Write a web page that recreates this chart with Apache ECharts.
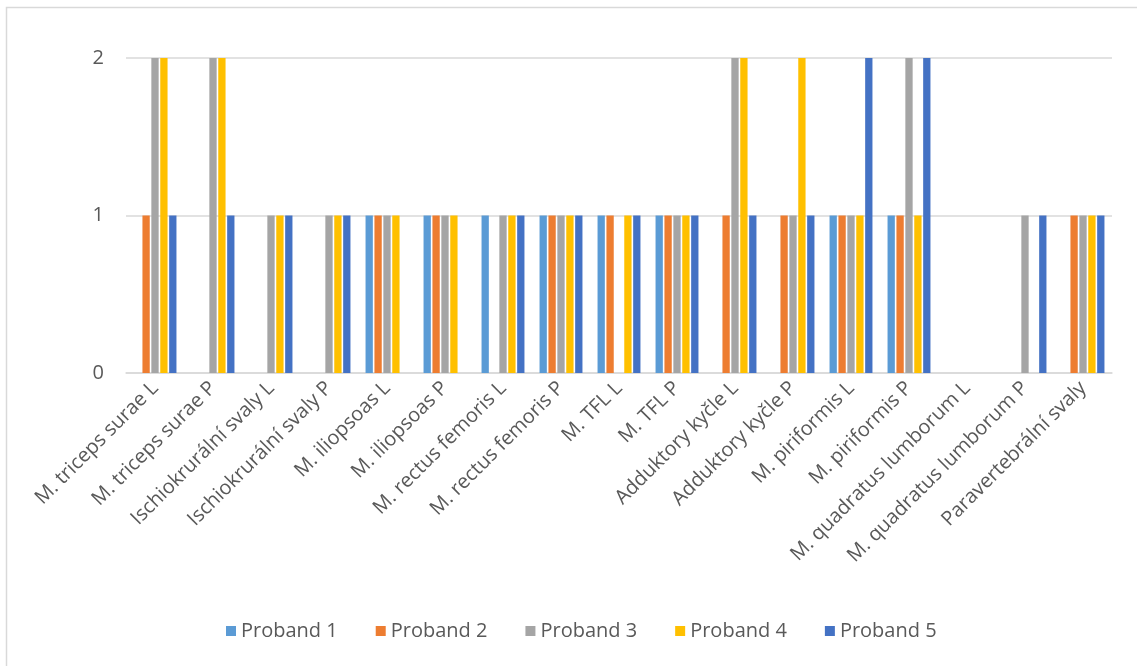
<!DOCTYPE html>
<html>
<head>
<meta charset="utf-8">
<script src="https://cdn.jsdelivr.net/npm/echarts@6/dist/echarts.min.js"></script>
<style>
  html, body { margin: 0; padding: 0; background: #ffffff; }
  #chart { width: 1137px; height: 666px; }
</style>
</head>
<body>
<div id="chart"></div>
<script>
// Muscles examined (left / right side)
const categories = [
  'M. triceps surae L', 'M. triceps surae P',
  'Ischiokrurální svaly L', 'Ischiokrurální svaly P',
  'M. iliopsoas L', 'M. iliopsoas P',
  'M. rectus femoris L', 'M. rectus femoris P',
  'M. TFL L', 'M. TFL P',
  'Adduktory kyčle L', 'Adduktory kyčle P',
  'M. piriformis L', 'M. piriformis P',
  'M. quadratus lumborum L', 'M. quadratus lumborum P',
  'Paravertebrální svaly'
];

// Score per muscle for each subject
const proband1 = [0, 0, 0, 0, 1, 1, 1, 1, 1, 1, 0, 0, 1, 1, 0, 0, 0];
const proband2 = [1, 0, 0, 0, 1, 1, 0, 1, 1, 1, 1, 1, 1, 1, 0, 0, 1];
const proband3 = [2, 2, 1, 1, 1, 1, 1, 1, 0, 1, 2, 1, 1, 2, 0, 1, 1];
const proband4 = [2, 2, 1, 1, 1, 1, 1, 1, 1, 1, 2, 2, 1, 1, 0, 0, 1];
const proband5 = [1, 1, 1, 1, 0, 0, 1, 1, 1, 1, 1, 1, 2, 2, 0, 1, 1];

const seriesNames = ['Proband 1', 'Proband 2', 'Proband 3', 'Proband 4', 'Proband 5'];
const seriesValues = [proband1, proband2, proband3, proband4, proband5];
const colors = ['#5B9BD5', '#ED7D31', '#A5A5A5', '#FFC000', '#4472C4'];

const yTicks = { min: 0, max: 2, interval: 1 };

const font = '"Open Sans", "Noto Sans", sans-serif';
const textColor = '#595959';

const chart = echarts.init(document.getElementById('chart'), null, { renderer: 'canvas' });

chart.setOption({
  animation: false,
  backgroundColor: '#ffffff',
  color: colors,
  textStyle: { fontFamily: font },
  // outer chart-area frame
  graphic: [{
    type: 'rect',
    shape: { x: 6.5, y: 7.5, width: 1200, height: 700 },
    style: { fill: 'none', stroke: '#d9d9d9', lineWidth: 1.5 },
    silent: true
  }],
  grid: { left: 126, right: 25, top: 58, bottom: 293, containLabel: false },
  legend: {
    bottom: 20,
    left: 221,
    itemWidth: 10,
    itemHeight: 10,
    itemGap: 38,
    icon: 'rect',
    textStyle: { fontFamily: font, fontSize: 20, color: textColor, padding: [0, 0, 0, 0] },
    data: seriesNames
  },
  xAxis: {
    type: 'category',
    data: categories,
    axisLine: { show: true, lineStyle: { color: '#d9d9d9', width: 1.5 } },
    axisTick: { show: false },
    axisLabel: {
      interval: 0,
      rotate: 45,
      margin: 12,
      fontFamily: font,
      fontSize: 20,
      color: textColor
    }
  },
  yAxis: {
    type: 'value',
    min: yTicks.min,
    max: yTicks.max,
    interval: yTicks.interval,
    axisLine: { show: false },
    axisTick: { show: false },
    splitLine: { lineStyle: { color: '#d9d9d9', width: 1.5 } },
    axisLabel: { margin: 22, fontFamily: font, fontSize: 20, color: textColor }
  },
  series: seriesNames.map((name, i) => ({
    name,
    type: 'bar',
    data: seriesValues[i],
    barGap: '22%',
    barCategoryGap: '26%',
    itemStyle: { color: colors[i] }
  }))
});
</script>
</body>
</html>
